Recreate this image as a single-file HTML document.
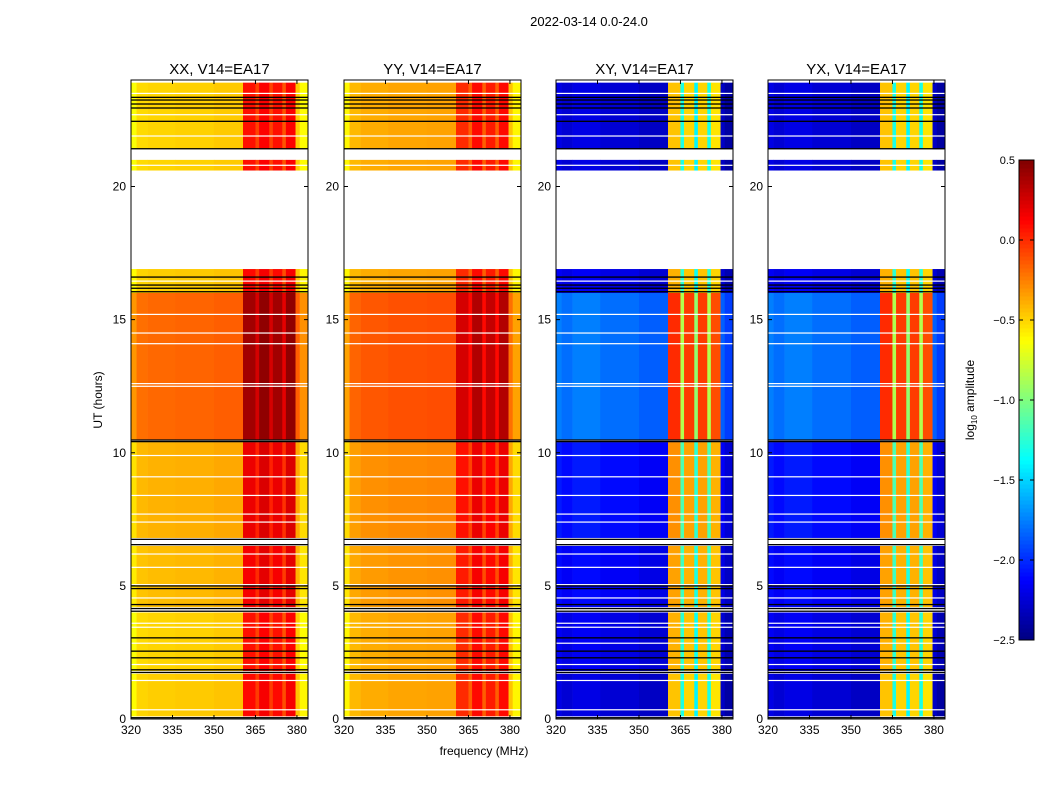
<!DOCTYPE html>
<html><head><meta charset="utf-8">
<style>
body{margin:0;background:#fff;width:1050px;height:800px;overflow:hidden;font-family:"Liberation Sans",sans-serif;}
svg text{font-family:"Liberation Sans",sans-serif;}
</style></head>
<body>
<svg id="fig" width="1050" height="800" xmlns="http://www.w3.org/2000/svg">
<text x="589" y="26" font-size="13" text-anchor="middle">2022-03-14 0.0-24.0</text>
<text x="484" y="755" font-size="12" text-anchor="middle">frequency (MHz)</text>
<text transform="translate(102,400) rotate(-90)" font-size="12" text-anchor="middle">UT (hours)</text>
<g id="panels"></g>
<g id="cbar"></g>
</svg>
<script>
// ---- data ----
const panelTitles = ["XX, V14=EA17","YY, V14=EA17","XY, V14=EA17","YX, V14=EA17"];
const xTicks = [320,335,350,365,380];
const yTicks = [0,5,10,15,20];
const cbarTicks = [0.5,0.0,-0.5,-1.0,-1.5,-2.0,-2.5];
// frequency band edges (MHz)
const bandEdges = [320,322,326,336,350,360.5,365,366.3,370,371.3,374.7,376,379.5,381,384];
// log10 amplitude per band, per panel
const bandXX = [-0.62,-0.5,-0.48,-0.47,-0.45,0.1,-0.05,0.15,-0.05,0.1,-0.1,0.15,-0.45,-0.6];
const bandYY = [-0.6,-0.42,-0.38,-0.36,-0.35,0.0,-0.15,0.1,-0.15,0.05,-0.15,0.1,-0.45,-0.6];
const bandXY = [-2.2,-2.25,-2.2,-2.25,-2.3,-0.45,-1.3,-0.5,-1.4,-0.5,-1.3,-0.55,-2.3,-2.4];
const bandYX = [-2.2,-2.25,-2.2,-2.25,-2.3,-0.45,-1.3,-0.5,-1.4,-0.5,-1.3,-0.55,-2.3,-2.4];
// time segments (hours) and offsets per panel
const segStart = [0.1,1.8,4.2,6.8,10.5,16.0,20.6,21.4];
const segEnd   = [1.7,4.0,6.5,10.4,16.0,16.9,21.0,23.9];
const segXX = [0.0,-0.02,0.05,0.08,0.3,0.0,-0.02,-0.02];
const segYY = [0.0,0.0,0.05,0.08,0.25,0.0,0.0,0.0];
const segXY = [0.0,0.05,0.1,0.15,0.45,0.05,0.0,0.0];
const segYX = [0.0,0.05,0.1,0.15,0.45,0.05,0.0,0.0];
// flagged lines (hours)
const whiteLines = [0.35,1.45,2.05,2.85,3.45,3.6,4.55,5.05,5.7,6.2,7.4,7.7,8.4,9.1,9.9,12.5,12.6,14.1,14.5,15.2,16.45,20.8,21.9,22.7,23.5];
const blackLines = [0.05,1.75,1.85,2.3,2.55,3.05,4.05,4.15,4.3,4.9,5.0,6.55,6.75,10.42,10.48,16.05,16.18,16.3,16.6,21.42,22.45,22.95,23.1,23.25,23.35];
const panelX0 = [131,344,556,768];

// ---- helpers ----
const NS="http://www.w3.org/2000/svg";
const PW=177, PT=80, PB=719;
function fx(f,p){return panelX0[p]+(f-320)*(PW/64);}
function fy(h){return PB-h*(PB-PT)/24;}
function jet(v){
  let t=(v+2.5)/3; t=Math.max(0,Math.min(1,t));
  const c=x=>Math.max(0,Math.min(1,x));
  const r=c(1.5-Math.abs(4*t-3)), g=c(1.5-Math.abs(4*t-2)), b=c(1.5-Math.abs(4*t-1));
  return `rgb(${Math.round(r*255)},${Math.round(g*255)},${Math.round(b*255)})`;
}
function mk(tag,attrs,parent){const e=document.createElementNS(NS,tag);for(const k in attrs)e.setAttribute(k,attrs[k]);parent.appendChild(e);return e;}

const bands=[bandXX,bandYY,bandXY,bandYX];
const segs=[segXX,segYY,segXY,segYX];
const G=document.getElementById('panels');
for(let p=0;p<4;p++){
  const g=mk('g',{},G);
  
  
  for(let s=0;s<segStart.length;s++){
    for(let b=0;b<bands[p].length;b++){
      const x1=fx(bandEdges[b],p), x2=fx(bandEdges[b+1],p);
      const y1=fy(segEnd[s]), y2=fy(segStart[s]);
      const r=mk('rect',{x:x1,y:y1,width:x2-x1+0.3,height:y2-y1,fill:jet(bands[p][b]+segs[p][s])},g);
      
      
    }
  }
  for(const h of whiteLines){
    const l=mk('rect',{x:panelX0[p],y:fy(h)-0.5,width:PW,height:1.2,fill:'#fff'},g);
    
    
  }
  for(const h of blackLines){
    const l=mk('rect',{x:panelX0[p],y:fy(h)-0.6,width:PW,height:1.3,fill:'#000'},g);
    
    
  }
  const fr=mk('rect',{x:panelX0[p],y:PT,width:PW,height:PB-PT,fill:'none',stroke:'#000','stroke-width':1},g);
  
  
  const t=mk('text',{x:panelX0[p]+PW/2,y:74,'font-size':15,'text-anchor':'middle'},g);
  t.textContent=panelTitles[p];
  
  
  for(const f of xTicks){
    const x=fx(f,p);
    mk('line',{x1:x,x2:x,y1:PB,y2:PB-4,stroke:'#000'},g);
    mk('line',{x1:x,x2:x,y1:PT,y2:PT+4,stroke:'#000'},g);
    const tt=mk('text',{x:x,y:PB+15,'font-size':12,'text-anchor':'middle'},g);
    tt.textContent=f;
    
    
  }
  for(const h of yTicks){
    const y=fy(h);
    mk('line',{x1:panelX0[p],x2:panelX0[p]+4,y1:y,y2:y,stroke:'#000'},g);
    mk('line',{x1:panelX0[p]+PW,x2:panelX0[p]+PW-4,y1:y,y2:y,stroke:'#000'},g);
    const tt=mk('text',{x:panelX0[p]-5,y:y+4,'font-size':12,'text-anchor':'end'},g);
    tt.textContent=h;
    
    
  }
}
// colorbar
const C=document.getElementById('cbar');


const CX=1019,CW=15,CT=160,CB=640;
for(let i=0;i<120;i++){
  const v=-2.5+3*(i+0.5)/120;
  mk('rect',{x:CX,y:CB-(i+1)*(CB-CT)/120,width:CW,height:(CB-CT)/120+0.5,fill:jet(v)},C);
}
mk('rect',{x:CX,y:CT,width:CW,height:CB-CT,fill:'none',stroke:'#000'},C);
for(const v of cbarTicks){
  const y=CB-(v+2.5)/3*(CB-CT);
  mk('line',{x1:CX,x2:CX+4,y1:y,y2:y,stroke:'#000'},C);
  mk('line',{x1:CX+CW,x2:CX+CW-4,y1:y,y2:y,stroke:'#000'},C);
  const t=mk('text',{x:CX-4,y:y+4,'font-size':11,'text-anchor':'end'},C);
  t.textContent=v.toFixed(1).replace('-','\u2212');
  
  
}
const cl=mk('text',{transform:'translate(974,400) rotate(-90)','font-size':12,'text-anchor':'middle'},C);
cl.innerHTML='log<tspan font-size="8" dy="3">10</tspan><tspan dy="-3"> amplitude</tspan>';


</script>
</body></html>
